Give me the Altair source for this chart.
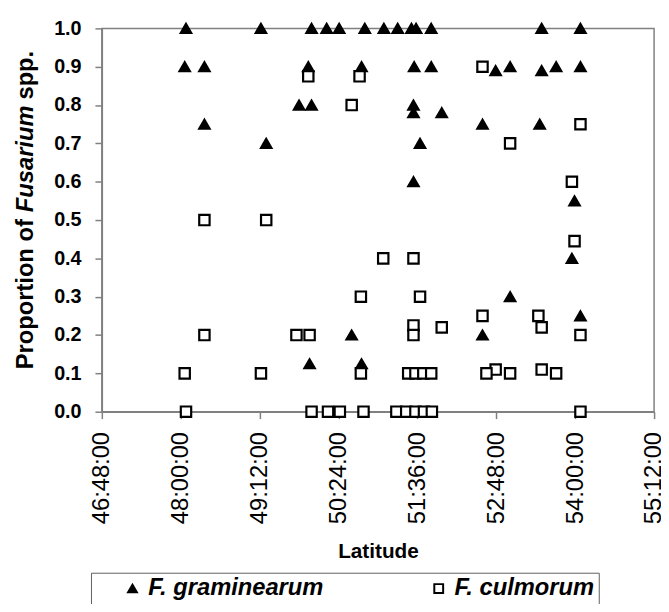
import altair as alt
import pandas as pd

species = ["F. graminearum", "F. culmorum"]

gram_lat = [48.08, 49.22, 49.99, 50.22, 50.41, 50.80, 51.09, 51.30, 51.51, 51.58, 51.81, 53.49, 54.08,
            48.06, 48.36, 49.94, 50.75, 51.55, 51.81, 52.79, 53.01, 53.49, 53.71, 54.08,
            49.80, 49.99, 51.54,
            51.54, 51.97,
            48.36, 52.59, 53.46,
            49.30, 51.64,
            51.54,
            53.99,
            53.95,
            53.01,
            54.08,
            50.60, 52.59,
            49.96, 50.75]
gram_val = [1.0, 1.0, 1.0, 1.0, 1.0, 1.0, 1.0, 1.0, 1.0, 1.0, 1.0, 1.0, 1.0,
            0.9, 0.9, 0.9, 0.9, 0.9, 0.9, 0.89, 0.9, 0.89, 0.9, 0.9,
            0.8, 0.8, 0.8,
            0.78, 0.78,
            0.75, 0.75, 0.75,
            0.7, 0.7,
            0.6,
            0.55,
            0.4,
            0.3,
            0.25,
            0.2, 0.2,
            0.125, 0.125]

culm_lat = [52.59,
            49.94, 50.72,
            50.60,
            54.08,
            53.01,
            53.95,
            48.36, 49.30,
            53.99,
            51.08, 51.54,
            50.74, 51.64,
            52.59, 53.44,
            51.54, 51.97, 53.49,
            48.36, 49.76, 49.96, 51.54, 54.08,
            52.79, 53.49,
            48.06, 49.22, 50.74, 51.46, 51.57, 51.69, 51.81, 52.65, 53.01, 53.71,
            48.08, 49.99, 50.24, 50.42, 50.78, 51.28, 51.43, 51.57, 51.70, 51.82, 54.08]
culm_val = [0.9,
            0.875, 0.875,
            0.8,
            0.75,
            0.7,
            0.6,
            0.5, 0.5,
            0.445,
            0.4, 0.4,
            0.3, 0.3,
            0.25, 0.25,
            0.225, 0.22, 0.22,
            0.2, 0.2, 0.2, 0.2, 0.2,
            0.11, 0.11,
            0.1, 0.1, 0.1, 0.1, 0.1, 0.1, 0.1, 0.1, 0.1, 0.1,
            0.0, 0.0, 0.0, 0.0, 0.0, 0.0, 0.0, 0.0, 0.0, 0.0, 0.0]

x_ticks = [46.8, 48.0, 49.2, 50.4, 51.6, 52.8, 54.0, 55.2]
y_ticks = [0.0, 0.1, 0.2, 0.3, 0.4, 0.5, 0.6, 0.7, 0.8, 0.9, 1.0]

df = pd.DataFrame({
    "lat": gram_lat + culm_lat,
    "prop": gram_val + culm_val,
    "species": [species[0]] * len(gram_lat) + [species[1]] * len(culm_lat),
})

FONT = "Liberation Sans"
GREY = "#808080"

legend = alt.Legend(
    title=None, orient="none", legendX=-11, legendY=551,
    direction="horizontal", columns=2, columnPadding=78,
    labelFontSize=24, labelFont=FONT, labelFontWeight="bold", labelFontStyle="italic",
    labelColor="black", labelLimit=0, strokeColor="#606060", padding=4, fillColor="white",
    symbolOffset=26, symbolSize=80, symbolStrokeWidth=2, labelOffset=4,
)

minute = "round((datum.value - floor(datum.value)) * 60)"
label_expr = f"floor(datum.value) + ':' + ({minute} < 10 ? '0' : '') + {minute} + ':00'"

points = alt.Chart(df).mark_point(
    filled=True, size=110, stroke="black", strokeWidth=2.2, opacity=1, fillOpacity=1
).encode(
    x=alt.X("lat:Q", scale=alt.Scale(domain=[46.8, 55.2], nice=False, zero=False),
            axis=alt.Axis(values=x_ticks, labelExpr=label_expr, labelAngle=270,
                          labelFontSize=24, labelFontWeight="normal", labelPadding=13,
                          tickSize=7, title="Latitude", titleFontSize=21,
                          titleFontWeight="bold", titlePadding=17, labelOverlap=False,
                          labelFlush=False)),
    y=alt.Y("prop:Q", scale=alt.Scale(domain=[0, 1], nice=False),
            axis=alt.Axis(values=y_ticks, format=".1f", title=None, labelFontSize=20,
                          labelFontWeight="bold", labelPadding=14, tickSize=7,
                          labelFlush=False)),
    shape=alt.Shape("species:N", scale=alt.Scale(domain=species, range=["triangle-up", "square"]),
                    legend=legend),
    fill=alt.Fill("species:N", scale=alt.Scale(domain=species, range=["black", "white"]),
                  legend=legend),
)

one = pd.DataFrame({"a": [0]})
title_props = dict(angle=270, baseline="middle", align="left", fontSize=24,
                   font=FONT, fontWeight="bold", color="black")
t1 = alt.Chart(one).mark_text(text="Proportion of", **title_props).encode(
    x=alt.value(-77), y=alt.value(345))
t2 = alt.Chart(one).mark_text(text="Fusarium", fontStyle="italic", **title_props).encode(
    x=alt.value(-77), y=alt.value(186))
t3 = alt.Chart(one).mark_text(text="spp.", **title_props).encode(
    x=alt.value(-77), y=alt.value(72))

chart = alt.layer(points, t1, t2, t3).properties(
    width=559, height=388,
    autosize=alt.AutoSizeParams(type="none"),
    padding={"left": 95, "top": 17, "right": 7, "bottom": 191},
).configure(font=FONT).configure_view(
    stroke=GREY, strokeWidth=1.5
).configure_axis(
    domainColor=GREY, domainWidth=1.5, tickColor=GREY, tickWidth=1.5,
    labelColor="black", titleColor="black", grid=False, labelFont=FONT, titleFont=FONT,
)

chart.save("out.html", embed_options={"renderer": "svg", "actions": False})
